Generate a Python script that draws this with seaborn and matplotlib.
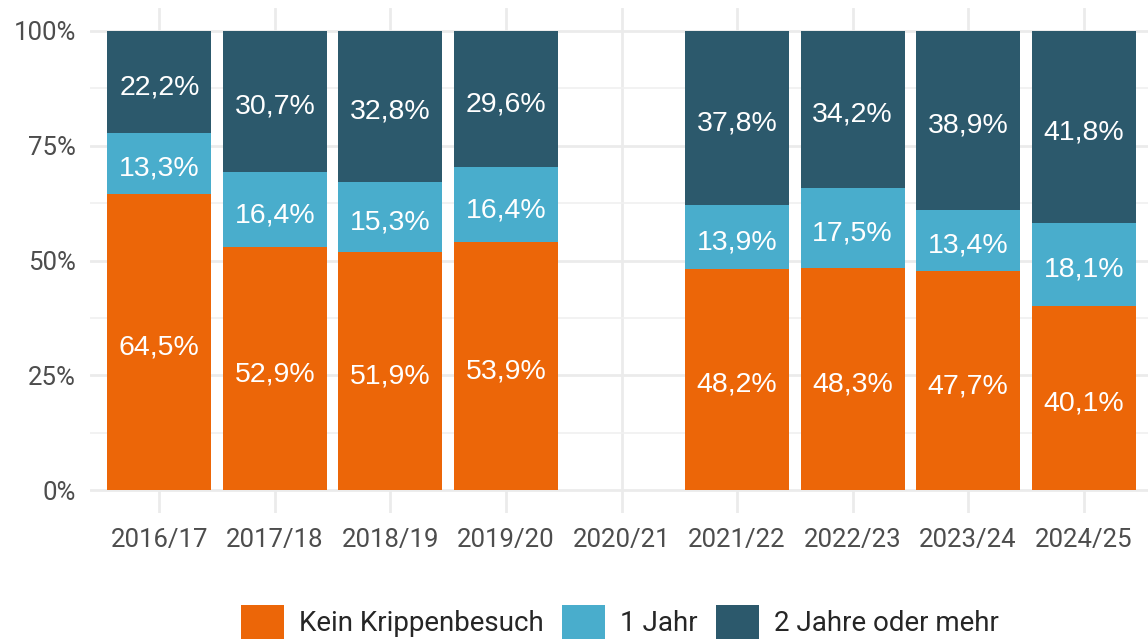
import numpy as np
import pandas as pd
import matplotlib
matplotlib.use("Agg")
import matplotlib.pyplot as plt
import matplotlib.transforms as mtrans
import seaborn as sns
from matplotlib.patches import Patch
from matplotlib.ticker import MultipleLocator, PercentFormatter

years = ["2016/17", "2017/18", "2018/19", "2019/20", "2020/21",
         "2021/22", "2022/23", "2023/24", "2024/25"]
kein = [64.5, 52.9, 51.9, 53.9, np.nan, 48.2, 48.3, 47.7, 40.1]
ein_jahr = [13.3, 16.4, 15.3, 16.4, np.nan, 13.9, 17.5, 13.4, 18.1]
zwei_plus = [22.2, 30.7, 32.8, 29.6, np.nan, 37.8, 34.2, 38.9, 41.8]

series = ["Kein Krippenbesuch", "1 Jahr", "2 Jahre oder mehr"]
colors = ["#EC6608", "#49ADCC", "#2C596C"]

df = pd.DataFrame({"year": years, "kein": kein, "ein": ein_jahr, "zwei": zwei_plus})
tot = df["kein"] + df["ein"] + df["zwei"]
# normalise to shares of 1
for c in ["kein", "ein", "zwei"]:
    df[c + "_s"] = df[c] / tot
df["top1"] = df["kein_s"]
df["top2"] = df["kein_s"] + df["ein_s"]
df["top3"] = df["top2"] + df["zwei_s"]

sns.set_theme(style="white")
plt.rcParams["font.family"] = ["Roboto", "DejaVu Sans"]

fig = plt.figure(figsize=(11.48, 6.39), dpi=100)
ax = fig.add_axes([90 / 1148, 1 - 513 / 639, 1063 / 1148, (513 - 8) / 639])

# stacked by overlaying cumulative heights
for col, colr in zip(["top3", "top2", "top1"], colors[::-1]):
    sns.barplot(data=df, x="year", y=col, order=years, color=colr,
                width=0.9, saturation=1, ax=ax, zorder=3, errorbar=None,
                edgecolor="none", linewidth=0)

# nudge labels a touch down
lab_trans = mtrans.offset_copy(ax.transData, fig=fig, x=0, y=-2.5, units="dots")
for i, row in df.iterrows():
    if np.isnan(row["kein"]):
        continue
    mids = [row["top1"] / 2, (row["top1"] + row["top2"]) / 2, (row["top2"] + row["top3"]) / 2]
    for v, m in zip([row["kein"], row["ein"], row["zwei"]], mids):
        ax.text(i, m, f"{v:.1f}%".replace(".", ","), ha="center", va="center_baseline",
                color="white", fontsize=20.5, family=["Liberation Sans", "DejaVu Sans"],
                zorder=4, transform=lab_trans)

ax.set_ylim(-0.05, 1.05)
ax.set_xlim(-0.6, len(years) - 0.4)
ax.yaxis.set_major_locator(MultipleLocator(0.25))
ax.yaxis.set_minor_locator(MultipleLocator(0.125))
ax.yaxis.set_major_formatter(PercentFormatter(1.0, decimals=0))
ax.grid(True, which="major", axis="both", color="#EBEBEB", linewidth=2.0, zorder=0)
ax.grid(True, which="minor", axis="y", color="#F0F0F0", linewidth=1.2, zorder=0)
ax.set_axisbelow(True)
for s in ax.spines.values():
    s.set_visible(False)
ax.tick_params(axis="both", which="both", length=0, labelsize=18.5,
               labelcolor="#4D4D4D", pad=10)
ax.tick_params(axis="x", pad=11)
ax.set_xlabel("")
ax.set_ylabel("")

handles = [Patch(facecolor=c, edgecolor="none") for c in colors]
fig.legend(handles, series, loc="center", ncol=3, frameon=False,
           bbox_to_anchor=(620 / 1148, 1 - 622 / 639), fontsize=20,
           handlelength=1.55, handleheight=1.55, handletextpad=0.55,
           columnspacing=0.65, borderpad=0)

fig.savefig("out.png", dpi=100)
